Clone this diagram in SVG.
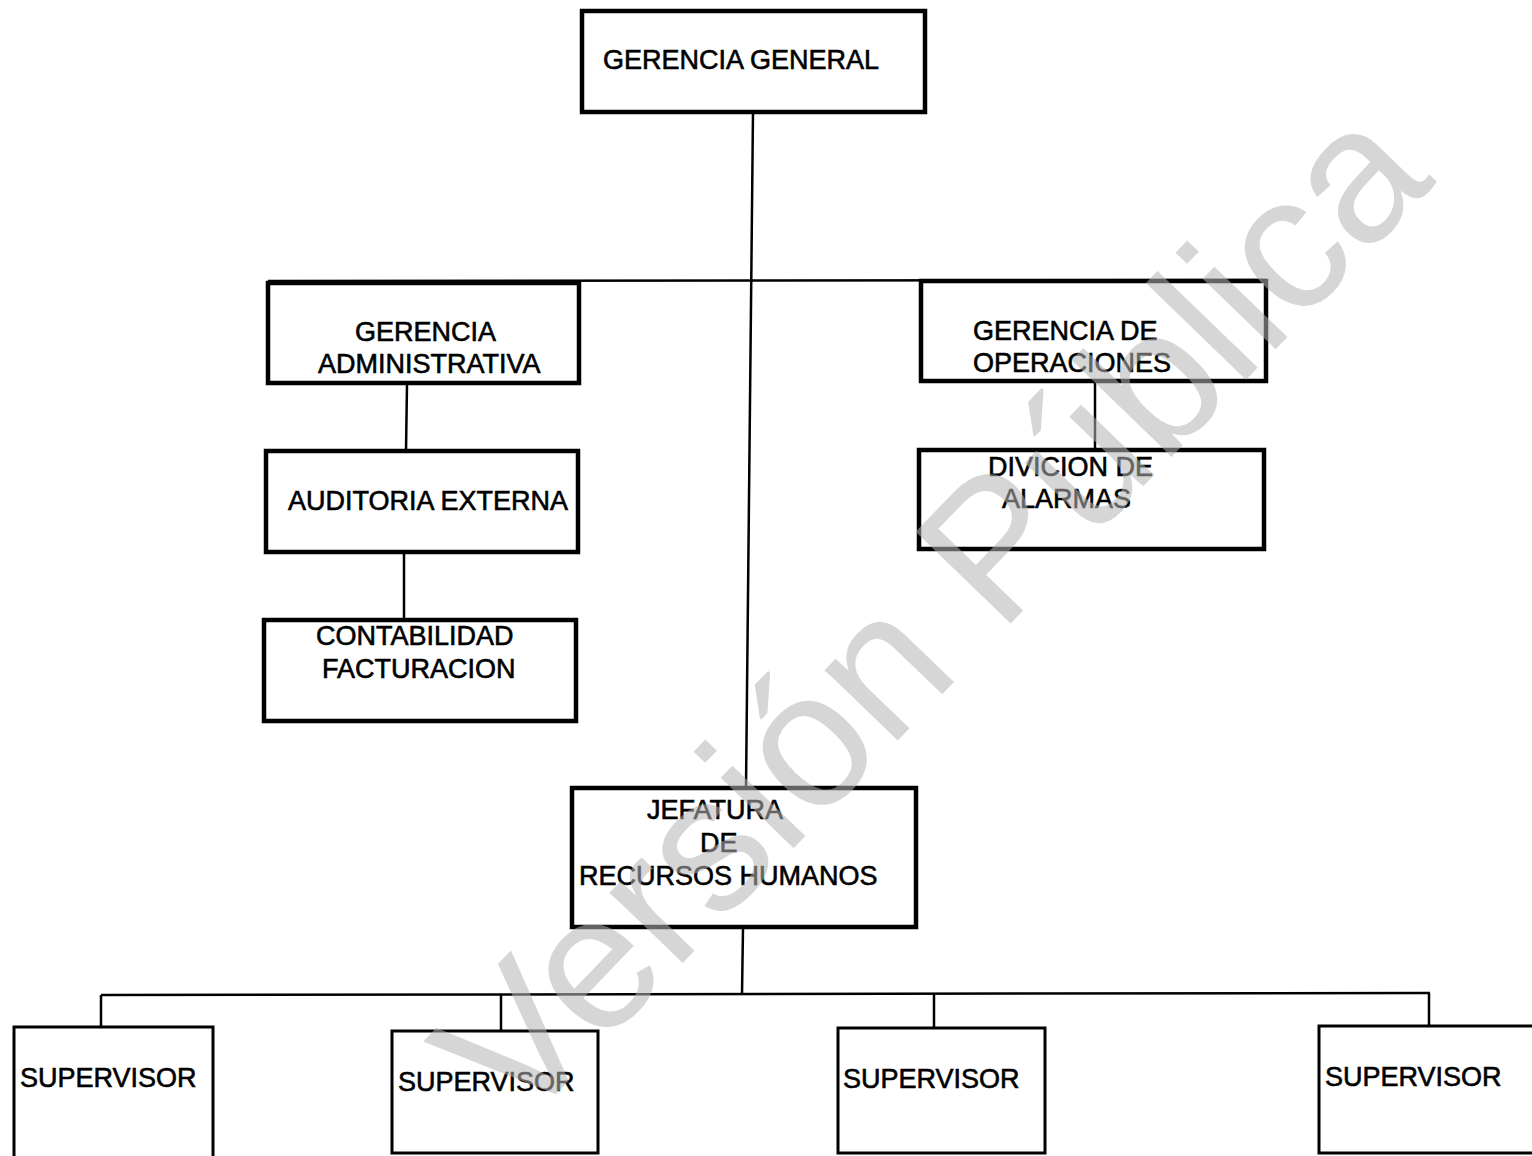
<svg xmlns="http://www.w3.org/2000/svg" width="1532" height="1156" viewBox="0 0 1532 1156">
<style>
  .box { fill: #fff; stroke: #000; stroke-width: 4.5; }
  .box2 { fill: #fff; stroke: #000; stroke-width: 3; }
  .lbl { font-family: "Liberation Sans", Arial, sans-serif; font-size: 27px; fill: #000; stroke: #000; stroke-width: 0.6; }
  .con { stroke: #000; stroke-width: 2.5; fill: none; }
  .wm { font-family: "Liberation Sans", Arial, sans-serif; font-size: 192px; fill: #b4b4b4; fill-opacity: 0.55; }
</style>
<rect width="1532" height="1156" fill="#fff"/>
<g id="connectors">
  <line class="con" x1="753" y1="112" x2="746" y2="788"/>
  <line class="con" x1="268" y1="281" x2="1266" y2="280"/>
  <line class="con" x1="407" y1="384" x2="406" y2="451"/>
  <line class="con" x1="404" y1="553" x2="404" y2="620"/>
  <line class="con" x1="1095" y1="382" x2="1095" y2="449"/>
  <line class="con" x1="743" y1="928" x2="742" y2="994"/>
  <line class="con" x1="101" y1="995" x2="1430" y2="993"/>
  <line class="con" x1="101" y1="995" x2="101" y2="1027"/>
  <line class="con" x1="501" y1="994" x2="501" y2="1031"/>
  <line class="con" x1="934" y1="994" x2="934" y2="1028"/>
  <line class="con" x1="1429" y1="993" x2="1429" y2="1026"/>
</g>
<g id="gerencia-general">
  <rect class="box" x="582" y="11" width="343" height="101"/>
  <text class="lbl" x="603" y="69">GERENCIA GENERAL</text>
</g>
<g id="gerencia-administrativa">
  <rect class="box" x="268" y="283" width="311" height="100"/>
  <text class="lbl" x="355" y="341">GERENCIA</text>
  <text class="lbl" x="318" y="373">ADMINISTRATIVA</text>
</g>
<g id="auditoria-externa">
  <rect class="box" x="266" y="451" width="312" height="101"/>
  <text class="lbl" x="288" y="510">AUDITORIA EXTERNA</text>
</g>
<g id="contabilidad-facturacion">
  <rect class="box" x="264" y="620" width="312" height="101"/>
  <text class="lbl" x="316" y="645">CONTABILIDAD</text>
  <text class="lbl" x="322" y="678">FACTURACION</text>
</g>
<g id="gerencia-operaciones">
  <rect class="box" x="921" y="281" width="345" height="100"/>
  <text class="lbl" x="973" y="340">GERENCIA DE</text>
  <text class="lbl" x="973" y="372">OPERACIONES</text>
</g>
<g id="divicion-alarmas">
  <rect class="box" x="919" y="450" width="345" height="99"/>
  <text class="lbl" x="988" y="476">DIVICION DE</text>
  <text class="lbl" x="1002" y="508">ALARMAS</text>
</g>
<g id="jefatura-rrhh">
  <rect class="box" x="572" y="788" width="344" height="139"/>
  <text class="lbl" x="647" y="819">JEFATURA</text>
  <text class="lbl" x="700" y="852">DE</text>
  <text class="lbl" x="579" y="885">RECURSOS HUMANOS</text>
</g>
<g id="supervisor-1">
  <rect class="box2" x="14" y="1027" width="199" height="135"/>
  <text class="lbl" x="20" y="1087">SUPERVISOR</text>
</g>
<g id="supervisor-2">
  <rect class="box2" x="392" y="1031" width="206" height="122"/>
  <text class="lbl" x="398" y="1091">SUPERVISOR</text>
</g>
<g id="supervisor-3">
  <rect class="box2" x="838" y="1028" width="207" height="125"/>
  <text class="lbl" x="843" y="1088">SUPERVISOR</text>
</g>
<g id="supervisor-4">
  <rect class="box2" x="1319" y="1026" width="220" height="127"/>
  <text class="lbl" x="1325" y="1086">SUPERVISOR</text>
</g>
<g id="watermark">
  <text class="wm" transform="translate(930,612) rotate(-46)" x="0" y="66" text-anchor="middle">Versión Pública</text>
</g>
</svg>
